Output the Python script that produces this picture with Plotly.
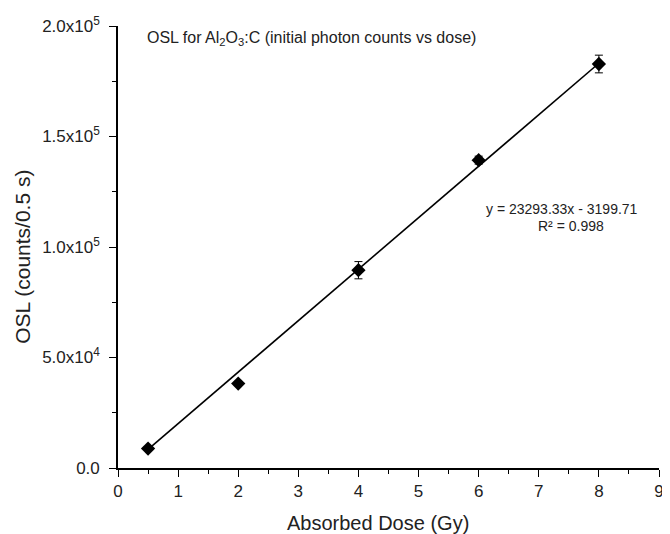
import plotly.graph_objects as go

# measured OSL (initial photon counts) against absorbed dose
dose = [0.5, 2, 4, 6, 8]
osl = [8800, 38200, 89500, 139300, 182800]
osl_err = [900, 900, 3900, 1800, 4000]

# linear fit as printed on the chart
fit_slope = 23293.33
fit_intercept = -3199.71
fit_r2 = 0.998
fit_x = [0.5, 8]
fit_y = [fit_slope * x + fit_intercept for x in fit_x]

y_tickvals = [0, 50000, 100000, 150000, 200000]
y_ticktext = ['0.0', '5.0x10<sup>4</sup>', '1.0x10<sup>5</sup>',
              '1.5x10<sup>5</sup>', '2.0x10<sup>5</sup>']

FONT = 'Liberation Sans, Arial, sans-serif'

fig = go.Figure()

fig.add_trace(
    go.Scatter(
        x=fit_x, y=fit_y,
        mode='lines',
        line=dict(color='black', width=1.6),
        showlegend=False,
    )
)

fig.add_trace(
    go.Scatter(
        x=dose, y=osl,
        mode='markers',
        marker=dict(symbol='diamond', size=11, color='black'),
        error_y=dict(type='data', array=osl_err, color='black', thickness=1, width=4),
        showlegend=False,
    )
)

fig.update_xaxes(
    range=[0, 9],
    tickvals=list(range(10)),
    ticks='outside', ticklen=7, tickwidth=1.2, tickcolor='black',
    minor=dict(dtick=0.5, ticks='outside', ticklen=4, tickwidth=1.2, tickcolor='black'),
    showline=True, linecolor='black', linewidth=1.6,
    showgrid=False, zeroline=False,
    tickfont=dict(family=FONT, size=17, color='#222'),
)
fig.update_yaxes(
    range=[0, 200000],
    tickvals=y_tickvals, ticktext=y_ticktext,
    ticks='outside', ticklen=7, tickwidth=1.2, tickcolor='black',
    minor=dict(dtick=25000, ticks='outside', ticklen=4, tickwidth=1.2, tickcolor='black'),
    ticklabelstandoff=6,
    showline=True, linecolor='black', linewidth=1.6,
    showgrid=False, zeroline=False,
    tickfont=dict(family=FONT, size=17, color='#222'),
)

# the page body adds an 8px offset, so the figure is a little smaller
fig.update_layout(
    width=662, height=526,
    margin=dict(l=110, r=6, t=14, b=66),
    plot_bgcolor='white',
    paper_bgcolor='white',
    font=dict(family=FONT, color='#222'),
    annotations=[
        dict(text='OSL for Al<sub>2</sub>O<sub>3</sub>:C (initial photon counts vs dose)',
             xref='paper', yref='paper', x=0.05, y=0.971,
             xanchor='left', yanchor='middle', showarrow=False,
             font=dict(size=16)),
        dict(text=f'y = {fit_slope}x - {abs(fit_intercept)}',
             xref='paper', yref='paper', x=0.8205, y=0.585,
             xanchor='center', yanchor='middle', showarrow=False,
             font=dict(size=14)),
        dict(text=f'R² = {fit_r2}',
             xref='paper', yref='paper', x=0.837, y=0.5485,
             xanchor='center', yanchor='middle', showarrow=False,
             font=dict(size=14)),
        dict(text='Absorbed Dose (Gy)',
             xref='paper', yref='paper', x=0.48, y=-0.124,
             xanchor='center', yanchor='middle', showarrow=False,
             font=dict(size=20)),
        dict(text='OSL (counts/0.5 s)',
             xref='paper', yref='paper', x=-0.178, y=0.477, textangle=-90,
             xanchor='center', yanchor='middle', showarrow=False,
             font=dict(size=21)),
    ],
)

fig.write_html('out.html')
